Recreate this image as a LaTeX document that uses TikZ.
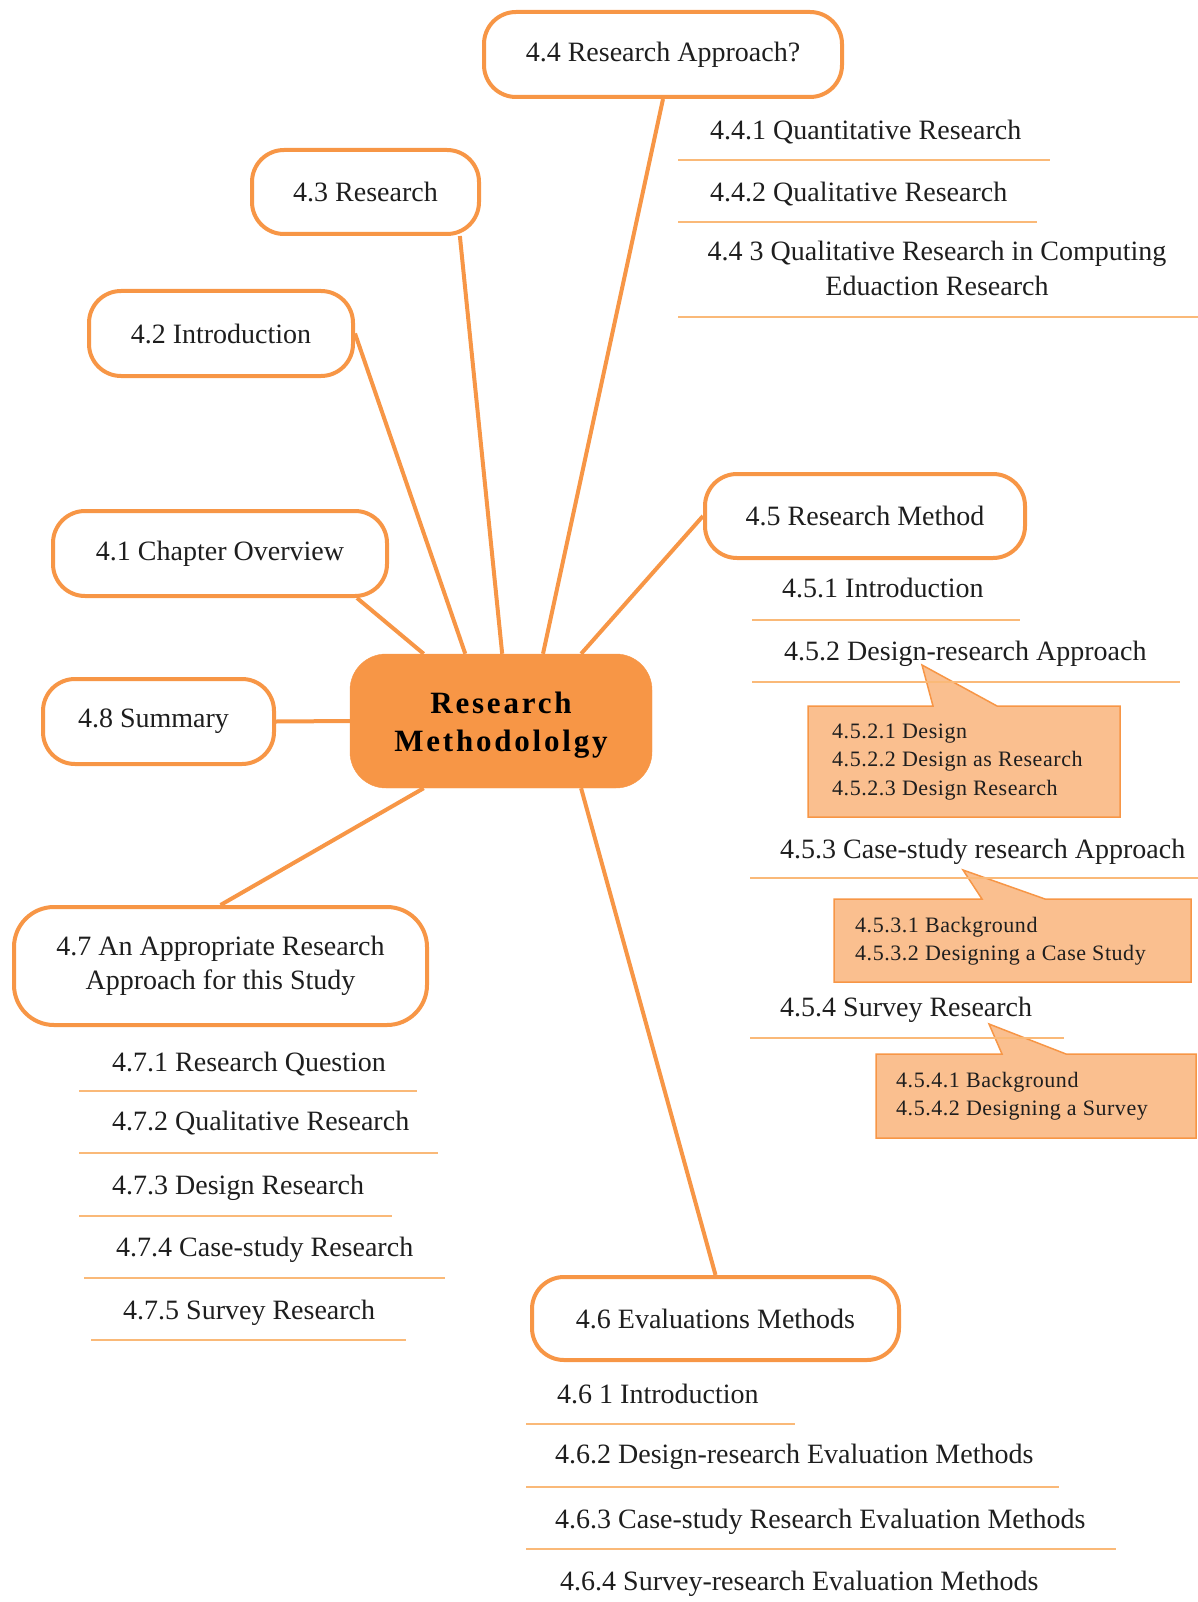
\documentclass[tikz,border=0pt]{standalone}
\usepackage{fontspec}
\setmainfont{Liberation Serif}
\newfontfamily\hubfont[LetterSpace=9]{Liberation Serif}
\newfontfamily\notefont[LetterSpace=2.5]{Liberation Serif}
\usetikzlibrary{calc}
\definecolor{mmorange}{RGB}{247,150,70}
\definecolor{mmlight}{RGB}{250,191,143}
\definecolor{mmline}{RGB}{250,185,120}
\definecolor{mmtext}{RGB}{30,30,30}
\begin{document}
\begin{tikzpicture}[x=1pt,y=-1pt,
  topic/.style={draw=mmorange, line width=4pt, fill=white, rounded corners=32pt,
    inner sep=0pt, font=\fontsize{28}{34}\selectfont, text=mmtext, align=center},
  hub/.style={fill=mmorange, draw=mmorange, rounded corners=36pt,
    minimum width=302pt, minimum height=134pt, inner sep=0pt},
  hubtext/.style={inner sep=0pt, font=\hubfont\bfseries\fontsize{31}{38}\selectfont,
    align=center, text=black},
  branch/.style={draw=mmorange, line width=4pt},
  entry/.style={anchor=west, inner sep=0pt, font=\fontsize{28}{34}\selectfont,
    text=mmtext, text height=19pt, text depth=0pt},
  uline/.style={draw=mmline, line width=2pt},
  callout/.style={draw=mmorange, line width=1.5pt, fill=mmlight},
  note/.style={anchor=west, inner sep=0pt, align=left,
    font=\notefont\fontsize{22}{28.5}\selectfont, text=mmtext}
]
\useasboundingbox (0,0) rectangle (1198,1602);

% central topic
\node[hub] (hub) at (501,721) {};
\node[hubtext] (hublabel) at (501,725) {Research\\Methodololgy};

% main topics
\node[topic, minimum width=358pt, minimum height=85pt] (c44) at (663,54.5) {4.4 Research Approach?};
\node[topic, minimum width=227pt, minimum height=84pt] (c43) at (365.5,192) {4.3 Research};
\node[topic, minimum width=264pt, minimum height=85pt] (c42) at (221,333.5) {4.2 Introduction};
\node[topic, minimum width=334pt, minimum height=85pt] (c41) at (220,553.5) {4.1 Chapter Overview};
\node[topic, minimum width=231pt, minimum height=85pt] (c48) at (158.5,721.5) {4.8 Summary\hspace*{10pt}};
\node[topic, minimum width=413pt, minimum height=118pt, rounded corners=40pt] (c47) at (220.5,966)
  {4.7 An Appropriate Research\\Approach for this Study};
\node[topic, minimum width=320pt, minimum height=84pt] (c45) at (865,516) {4.5 Research Method};
\node[topic, minimum width=367pt, minimum height=83pt] (c46) at (715.5,1318.5) {4.6 Evaluations Methods};

% branches
\draw[branch] (hub.58)  -- (c44.south);
\draw[branch] (hub.89)  -- (c43.335);
\draw[branch] (hub.118) -- (c42.east);
\draw[branch] (hub.139) -- (c41.342);
\draw[branch] (hub.west) -- (c48.east);
\draw[branch] (hub.221) -- (c47.north);
\draw[branch] (hub.320) -- (c46.north);
\draw[branch] (hub.40)  -- (c45.west);

% 4.4 subtopics
\node[entry] (e441) at (710,130) {4.4.1 Quantitative Research};
\draw[uline] (678,160) -- (1050,160);
\node[entry] (e442) at (710,192) {4.4.2 Qualitative Research};
\draw[uline] (678,222) -- (1037,222);
\node[inner sep=0pt, align=center, font=\fontsize{28}{35}\selectfont, text=mmtext] (e443) at (937,268)
  {4.4 3 Qualitative Research in Computing\\Eduaction Research};
\draw[uline] (678,317) -- (1198,317);

% 4.5 subtopics
\node[entry] (e451) at (782,588) {4.5.1 Introduction};
\draw[uline] (752,620) -- (1020,620);
\node[entry] (e452) at (784,651) {4.5.2 Design-research Approach};
\draw[callout] (808,706) -- (933,706) -- (922,665) -- (997,706) -- (1120,706) -- (1120,817) -- (808,817) -- cycle;
\draw[uline] (752,682) -- (1180,682);
\node[note] (n452) at (832,762) {4.5.2.1 Design\\4.5.2.2 Design as Research\\4.5.2.3 Design Research};

\node[entry] (e453) at (780,849) {4.5.3 Case-study research Approach};
\draw[callout] (834,899) -- (982,899) -- (963,870) -- (1045,899) -- (1191,899) -- (1191,982) -- (834,982) -- cycle;
\draw[uline] (750,878) -- (1198,878);
\node[note] (n453) at (855,941) {4.5.3.1 Background\\4.5.3.2 Designing a Case Study};

\node[entry] (e454) at (780,1007) {4.5.4 Survey Research};
\draw[callout] (876,1054) -- (1002,1054) -- (989,1024) -- (1066,1054) -- (1196,1054) -- (1196,1138) -- (876,1138) -- cycle;
\draw[uline] (750,1038) -- (1064,1038);
\node[note] (n454) at (896,1096) {4.5.4.1 Background\\4.5.4.2 Designing a Survey};

% 4.6 subtopics
\node[entry] (e461) at (557,1394) {4.6 1 Introduction};
\draw[uline] (526,1424) -- (795,1424);
\node[entry] (e462) at (555,1454) {4.6.2 Design-research Evaluation Methods};
\draw[uline] (526,1487) -- (1059,1487);
\node[entry] (e463) at (555,1519) {4.6.3 Case-study Research Evaluation Methods};
\draw[uline] (526,1549) -- (1116,1549);
\node[entry] (e464) at (560,1581) {4.6.4 Survey-research Evaluation Methods};

% 4.7 subtopics
\node[entry] (e471) at (112,1062) {4.7.1 Research Question};
\draw[uline] (79,1091) -- (417,1091);
\node[entry] (e472) at (112,1121) {4.7.2 Qualitative Research};
\draw[uline] (79,1153) -- (438,1153);
\node[entry] (e473) at (112,1185) {4.7.3 Design Research};
\draw[uline] (79,1216) -- (392,1216);
\node[entry] (e474) at (116,1247) {4.7.4 Case-study Research};
\draw[uline] (84,1278) -- (445,1278);
\node[entry] (e475) at (123,1310) {4.7.5 Survey Research};
\draw[uline] (91,1340) -- (406,1340);
\end{tikzpicture}
\end{document}
